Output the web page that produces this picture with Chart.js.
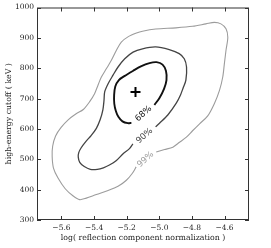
<!DOCTYPE html>
<html>
<head>
<meta charset="utf-8">
<script src="https://cdn.jsdelivr.net/npm/chart.js@4/dist/chart.umd.min.js"></script>
<style>
  body { margin: 0; background: #fff; }
  canvas { display: block; }
</style>
</head>
<body>
<canvas id="grafico" width="271" height="248"></canvas>
<script>
// ticks
const xTicks = [-5.6, -5.4, -5.2, -5.0, -4.8, -4.6];
const yTicks = [300, 400, 500, 600, 700, 800, 900, 1000];

// contour levels (x = log norm, y = cutoff keV)
const contour99 = [
    [-5.019, 524], [-4.968, 532], [-4.917, 540], [-4.876, 556], [-4.834, 573], [-4.796, 594],
    [-4.753, 617], [-4.703, 643], [-4.662, 684], [-4.631, 727], [-4.611, 771], [-4.601, 815],
    [-4.591, 859], [-4.580, 902], [-4.591, 930], [-4.622, 946], [-4.662, 951], [-4.714, 946],
    [-4.796, 938], [-4.898, 933], [-5.022, 929], [-5.103, 922], [-5.140, 916], [-5.190, 904],
    [-5.233, 886], [-5.263, 859], [-5.294, 826], [-5.325, 798], [-5.356, 770], [-5.376, 744],
    [-5.397, 716], [-5.428, 689], [-5.466, 664], [-5.510, 650], [-5.559, 630], [-5.602, 605],
    [-5.636, 577], [-5.654, 543], [-5.657, 509], [-5.649, 471], [-5.622, 439], [-5.577, 403],
    [-5.528, 379], [-5.489, 367], [-5.448, 372], [-5.386, 384], [-5.314, 397], [-5.253, 411],
    [-5.202, 431], [-5.165, 454], [-5.142, 475]
];
const contour90 = [
    [-5.023, 607], [-4.999, 619], [-4.948, 646], [-4.896, 685], [-4.870, 712], [-4.854, 735],
    [-4.837, 761], [-4.833, 804], [-4.847, 831], [-4.878, 848], [-4.939, 861], [-5.022, 870],
    [-5.103, 864], [-5.161, 853], [-5.212, 831], [-5.253, 804], [-5.284, 777], [-5.314, 749],
    [-5.335, 722], [-5.339, 695], [-5.346, 663], [-5.363, 630], [-5.386, 602], [-5.417, 579],
    [-5.451, 558], [-5.479, 538], [-5.494, 522], [-5.497, 507], [-5.488, 490], [-5.460, 476],
    [-5.423, 467], [-5.380, 467], [-5.343, 472], [-5.306, 481], [-5.265, 495], [-5.222, 518],
    [-5.183, 535], [-5.162, 551]
];
const contour68 = [
    [-5.030, 679], [-4.999, 702], [-4.971, 732], [-4.956, 761], [-4.959, 791], [-4.980, 812],
    [-5.017, 820], [-5.060, 817], [-5.113, 806], [-5.162, 791], [-5.214, 774], [-5.248, 761],
    [-5.270, 740], [-5.277, 712], [-5.276, 683], [-5.266, 658], [-5.251, 640], [-5.226, 625],
    [-5.193, 619], [-5.171, 620]
];
const bestFit = [-5.146, 722];

// contour labels
const levelNames = ['68%', '90%', '99%'];
const levelLabelX = [-5.097, -5.091, -5.085];
const levelLabelY = [650, 577, 499];
const levelColors = ['#111111', '#444444', '#9c9c9c'];

const fuente = { family: 'DejaVu Serif', size: 7.5 };
const fuenteTitulo = { family: 'DejaVu Serif', size: 7.8 };
const aPuntos = arr => arr.map(p => ({ x: p[0], y: p[1] }));
const menos = v => (v < 0 ? '\u2212' + Math.abs(v).toFixed(1) : v.toFixed(1));

// marco con ticks hacia dentro + etiquetas de contorno
const marcoPlugin = {
    id: 'marco',
    afterDatasetsDraw(chart) {
        const { ctx, chartArea: a, scales: { x, y } } = chart;
        ctx.save();
        ctx.font = '8.5px "DejaVu Sans"';
        ctx.textAlign = 'center';
        ctx.textBaseline = 'middle';
        levelNames.forEach((t, i) => {
            ctx.save();
            ctx.translate(x.getPixelForValue(levelLabelX[i]), y.getPixelForValue(levelLabelY[i]));
            ctx.rotate(-42 * Math.PI / 180);
            ctx.fillStyle = levelColors[i];
            ctx.fillText(t, 0, 0);
            ctx.restore();
        });

        ctx.strokeStyle = '#333';
        ctx.lineWidth = 1;
        ctx.strokeRect(a.left + 0.5, a.top + 0.5, a.right - a.left - 1, a.bottom - a.top - 1);
        ctx.beginPath();
        xTicks.forEach(v => {
            const px = Math.round(x.getPixelForValue(v)) + 0.5;
            ctx.moveTo(px, a.bottom); ctx.lineTo(px, a.bottom - 4);
            ctx.moveTo(px, a.top); ctx.lineTo(px, a.top + 4);
        });
        yTicks.forEach(v => {
            const py = Math.round(y.getPixelForValue(v)) + 0.5;
            ctx.moveTo(a.left, py); ctx.lineTo(a.left + 4, py);
            ctx.moveTo(a.right, py); ctx.lineTo(a.right - 4, py);
        });
        ctx.stroke();
        ctx.restore();
    }
};

const ctx = document.getElementById('grafico').getContext('2d');

new Chart(ctx, {
    type: 'scatter',
    data: {
        datasets: [
            {
                label: '99%',
                data: aPuntos(contour99),
                showLine: true,
                borderColor: levelColors[2],
                borderWidth: 1.1,
                pointRadius: 0,
                tension: 0.3
            },
            {
                label: '90%',
                data: aPuntos(contour90),
                showLine: true,
                borderColor: levelColors[1],
                borderWidth: 1.3,
                pointRadius: 0,
                tension: 0.3
            },
            {
                label: '68%',
                data: aPuntos(contour68),
                showLine: true,
                borderColor: levelColors[0],
                borderWidth: 1.9,
                pointRadius: 0,
                tension: 0.3
            },
            {
                label: 'mejor ajuste',
                data: [{ x: bestFit[0], y: bestFit[1] }],
                pointStyle: 'cross',
                pointRadius: 5,
                borderColor: '#000',
                borderWidth: 2
            }
        ]
    },
    options: {
        responsive: false,
        animation: false,
        layout: { padding: { top: 7, right: 22, left: 0, bottom: 0 } },
        plugins: {
            legend: { display: false },
            tooltip: { enabled: false }
        },
        scales: {
            x: {
                type: 'linear',
                min: -5.75,
                max: -4.45,
                afterBuildTicks: s => { s.ticks = xTicks.map(v => ({ value: v })); },
                afterFit: s => { s.height = 28; },
                grid: { display: false, drawTicks: false },
                border: { display: false },
                ticks: { font: fuente, color: '#222', padding: 4, maxRotation: 0, callback: v => menos(v) },
                title: {
                    display: true,
                    text: 'log( reflection component normalization )',
                    font: fuenteTitulo,
                    color: '#222',
                    padding: { top: 0, bottom: 5 }
                }
            },
            y: {
                type: 'linear',
                min: 300,
                max: 1000,
                afterBuildTicks: s => { s.ticks = yTicks.map(v => ({ value: v })); },
                afterFit: s => { s.width = 37; },
                grid: { display: false, drawTicks: false },
                border: { display: false },
                ticks: { font: fuente, color: '#222', padding: 3, callback: v => String(v) },
                title: {
                    display: true,
                    text: 'high-energy cutoff ( keV )',
                    font: fuenteTitulo,
                    color: '#222',
                    padding: { top: 4, bottom: 0 }
                }
            }
        }
    },
    plugins: [marcoPlugin]
});
</script>
</body>
</html>
